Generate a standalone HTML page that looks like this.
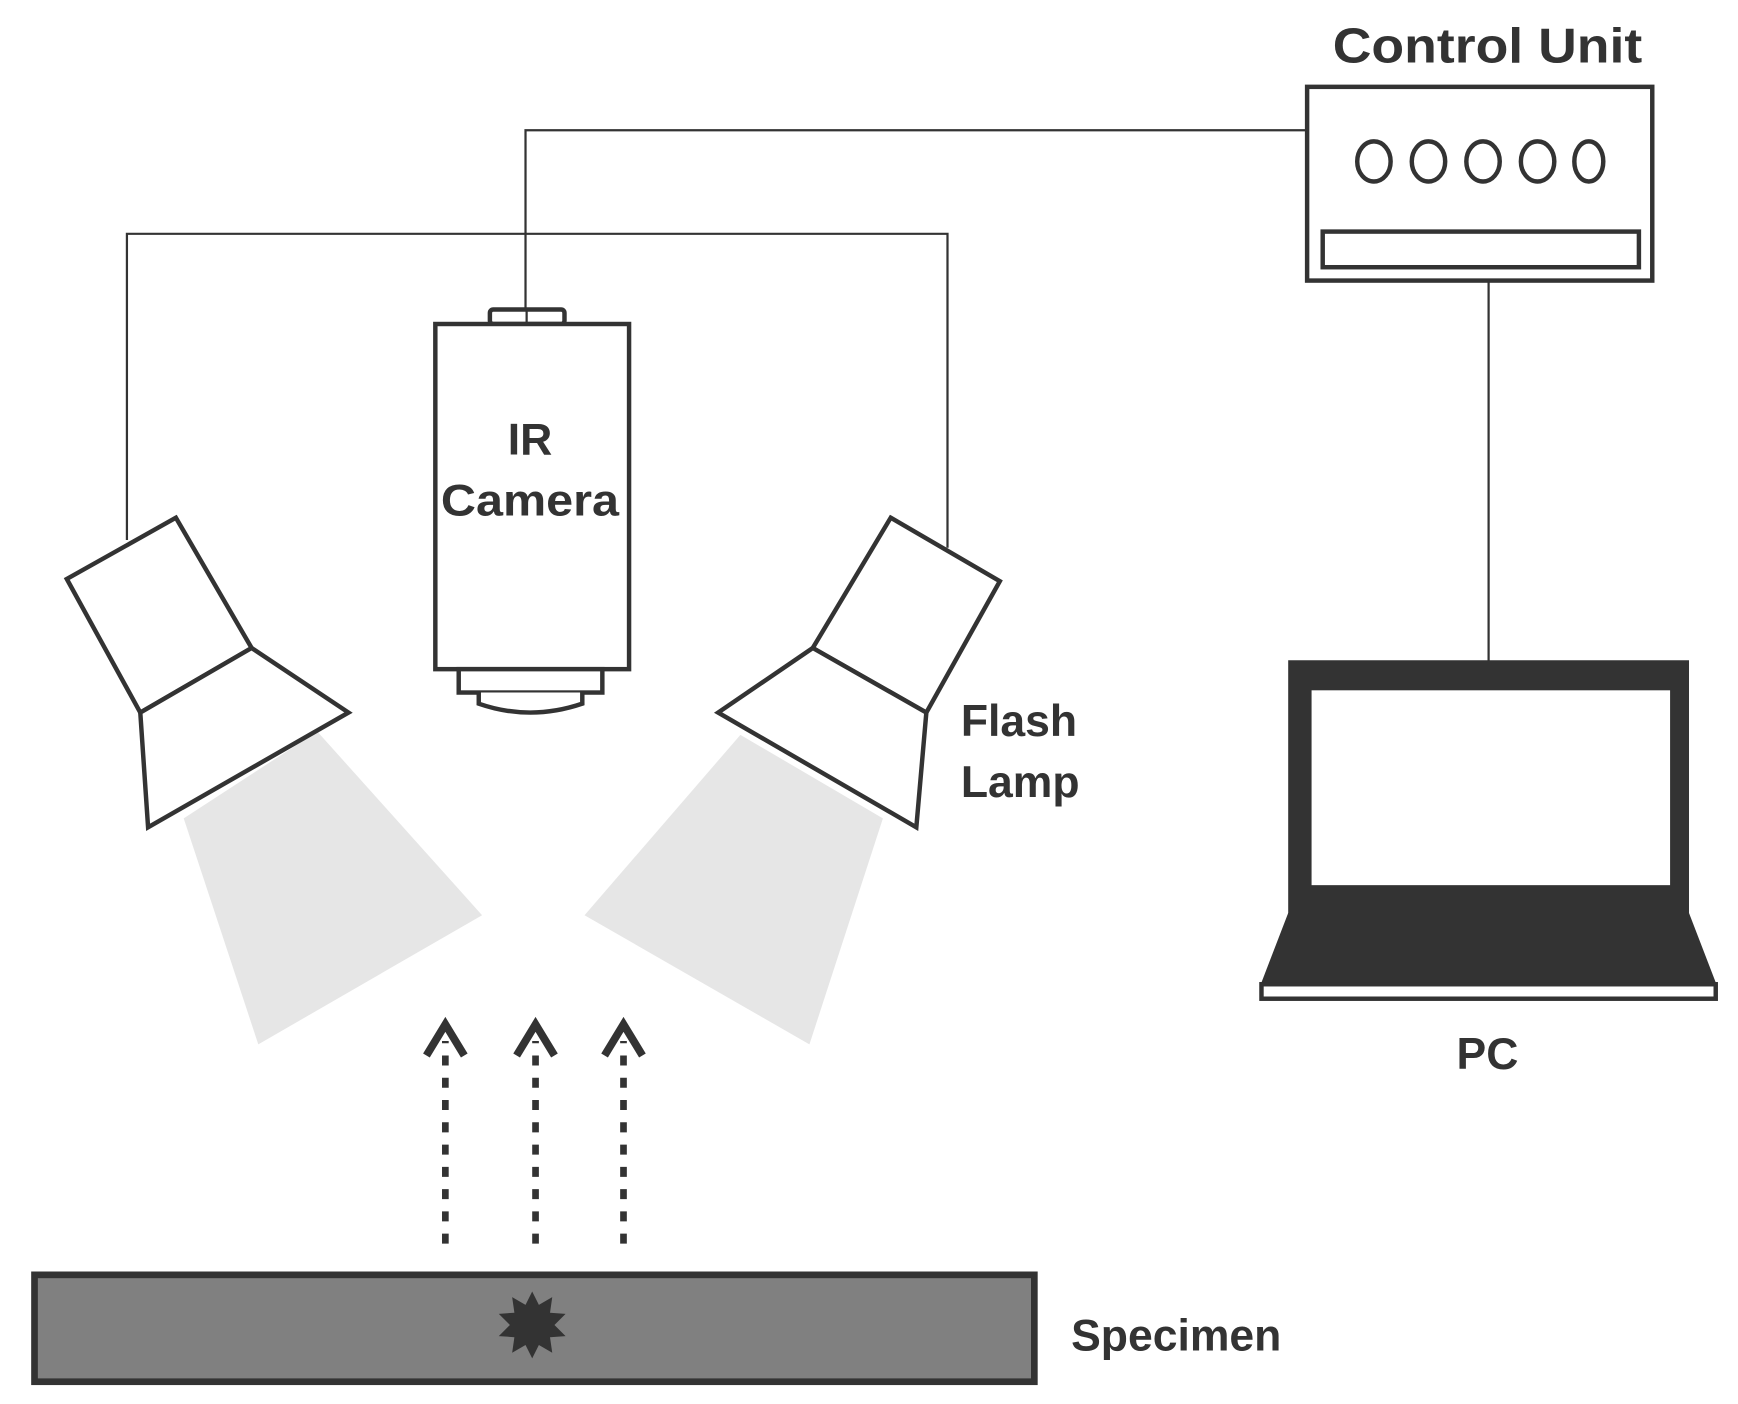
<!DOCTYPE html>
<html><head><meta charset="utf-8"><style>
html,body{margin:0;padding:0;background:#fff;}
svg{display:block;}
text{font-family:"Liberation Sans",sans-serif;font-weight:bold;fill:#333;}
</style></head><body>
<svg width="1738" height="1404" viewBox="0 0 1561 1261" preserveAspectRatio="none" xmlns="http://www.w3.org/2000/svg">
<g fill="none" stroke="#333" stroke-width="2">
<polyline points="1174,117 472,117 472,280"/>
<polyline points="114,485 114,210 851,210 851,492"/>
<line x1="1337" y1="252" x2="1337" y2="594"/>
</g>
<polygon points="285,657 433,822 232,938 165,735" fill="#e6e6e6"/>
<polygon points="665,660 525,822 727,938 793,735" fill="#e6e6e6"/>
<text x="1336" y="56" font-size="44" text-anchor="middle" textLength="278" lengthAdjust="spacingAndGlyphs">Control Unit</text>
<rect x="1174" y="78" width="310" height="174" fill="#fff" stroke="#333" stroke-width="4"/>
<g fill="none" stroke="#333" stroke-width="4">
<ellipse cx="1234" cy="145" rx="15" ry="18"/>
<ellipse cx="1283" cy="145" rx="15" ry="18"/>
<ellipse cx="1332" cy="145" rx="15" ry="18"/>
<ellipse cx="1381" cy="145" rx="15" ry="18"/>
<ellipse cx="1427" cy="145" rx="13" ry="18"/>
</g>
<rect x="1188" y="208" width="284" height="32" fill="#fff" stroke="#333" stroke-width="4"/>
<rect x="440" y="278" width="67" height="13" rx="3" fill="#fff" stroke="#333" stroke-width="4"/>
<line x1="473" y1="278" x2="473" y2="291" stroke="#333" stroke-width="2"/>
<rect x="391" y="291" width="174" height="310" fill="#fff" stroke="#333" stroke-width="4"/>
<rect x="412" y="601" width="129" height="21" fill="#fff" stroke="#333" stroke-width="4"/>
<path d="M430,622 L430,632 Q476,648 523,632 L523,622" fill="#fff" stroke="#333" stroke-width="4"/>
<text x="476" y="408" font-size="40" text-anchor="middle">IR</text>
<text x="476" y="463" font-size="40" text-anchor="middle" textLength="160" lengthAdjust="spacingAndGlyphs">Camera</text>
<g fill="#fff" stroke="#333" stroke-width="4" stroke-linejoin="miter">
<polygon points="158,465 60,520 126,640 226,582"/>
<polygon points="226,582 313,640 133,743 126,640"/>
<polygon points="800,465 898,522 832,640 730,582"/>
<polygon points="730,582 645,640 823,743 832,640"/>
</g>
<text x="863" y="661" font-size="40">Flash</text>
<text x="863" y="716" font-size="40">Lamp</text>
<g stroke="#333" fill="none">
<g stroke-width="6" stroke-dasharray="9,11">
<line x1="400" y1="1117" x2="400" y2="935"/>
<line x1="481" y1="1117" x2="481" y2="935"/>
<line x1="560" y1="1117" x2="560" y2="935"/>
</g>
<g stroke-width="7">
<polyline points="383,948 400,920 417,948"/>
<polyline points="464,948 481,920 498,948"/>
<polyline points="543,948 560,920 577,948"/>
</g>
</g>
<rect x="31" y="1145" width="898" height="96" fill="#808080" stroke="#333" stroke-width="6"/>
<polygon fill="#333" points="478,1160 484,1172 496,1165 494,1179 508,1180 498,1190 508,1200 494,1201 496,1215 484,1208 478,1220 472,1208 460,1215 462,1201 448,1200 458,1190 448,1180 462,1179 460,1165 472,1172"/>
<text x="962" y="1213" font-size="40">Specimen</text>
<rect x="1157" y="593" width="360" height="230" fill="#333"/>
<rect x="1178" y="620" width="322" height="175" fill="#fff"/>
<polygon points="1157,820 1517,820 1542,885 1132,885" fill="#333"/>
<rect x="1133" y="884" width="408" height="13" fill="#fff" stroke="#333" stroke-width="4"/>
<text x="1336" y="960" font-size="40" text-anchor="middle">PC</text>
</svg>
</body></html>
